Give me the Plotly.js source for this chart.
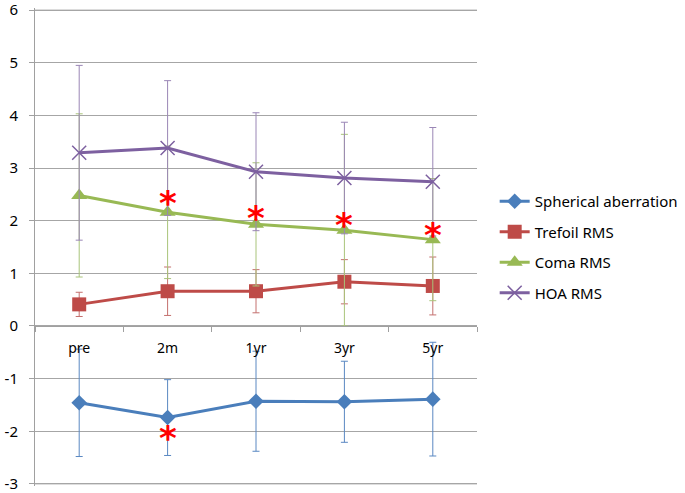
<!DOCTYPE html>
<html>
<head>
<meta charset="utf-8">
<script src="https://cdn.plot.ly/plotly-3.0.1.min.js"></script>
<style>html,body{margin:0;padding:0;background:#fff;} #chart{width:685px;height:493px;}</style>
</head>
<body>
<div id="chart"></div>
<script>
const categories = ['pre', '2m', '1yr', '3yr', '5yr'];

const sphericalMean = [-1.46, -1.74, -1.43, -1.44, -1.39];
const sphericalSD   = [1.02, 0.72, 0.95, 0.77, 1.08];

const trefoilMean = [0.41, 0.66, 0.66, 0.84, 0.76];
const trefoilSD   = [0.23, 0.46, 0.41, 0.42, 0.55];

const comaMean = [2.48, 2.16, 1.93, 1.82, 1.64];
const comaSD   = [1.55, 1.26, 1.17, 1.82, 1.16];

const hoaMean = [3.29, 3.38, 2.93, 2.81, 2.74];
const hoaSD   = [1.66, 1.28, 1.12, 1.06, 1.03];

const starCategories = ['2m', '1yr', '3yr', '5yr', '2m'];
const starY = [2.42, 2.12, 1.99, 1.81, -2.05];

const yTickVals = [-3, -2, -1, 0, 1, 2, 3, 4, 5, 6];
const yMin = -3.04, yMax = 6.04;

const FONT = '"Noto Sans", "DejaVu Sans", sans-serif';
const GRID = '#A6A6A6';

function series(name, y, sd, color, errColor, symbol, size, markerLine) {
  return {
    type: 'scatter', mode: 'lines+markers', name: name,
    x: categories, y: y,
    line: {color: color, width: 3},
    marker: Object.assign({color: color, symbol: symbol, size: size}, markerLine || {}),
    error_y: {type: 'data', array: sd, visible: true, color: errColor, thickness: 1, width: 3.5},
    legendgroup: name
  };
}

const traces = [
  series('Spherical aberration', sphericalMean, sphericalSD, '#4A7EBB', '#5A88C2', 'diamond', 12),
  series('Trefoil RMS', trefoilMean, trefoilSD, '#BE4B48', '#C4706E', 'square', 14),
  series('Coma RMS', comaMean, comaSD, '#98B954', '#A9C47A', 'triangle-up', 14),
  series('HOA RMS', hoaMean, hoaSD, '#7D60A0', '#9A86B6', 'x-thin-open', 14, {line: {color: '#7D60A0', width: 1.5}})
];

const annotations = starCategories.map((c, i) => ({
  x: c, y: starY[i], xref: 'x', yref: 'y',
  text: '<b>*</b>', showarrow: false,
  font: {family: '"DejaVu Sans", sans-serif', size: 34, color: '#FF0000'},
  yshift: -4
}));

// edge gridlines (top and bottom of the value axis)
const edgeValues = [yTickVals[0], yTickVals[yTickVals.length - 1]];
const shapes = edgeValues.map(v => ({
  type: 'line', xref: 'paper', yref: 'y', x0: 0, x1: 1, y0: v, y1: v,
  line: {color: GRID, width: 1}, layer: 'below'
}));

const layout = {
  width: 685, height: 493,
  margin: {l: 35, r: 208, t: 8, b: 7, autoexpand: false},
  paper_bgcolor: '#ffffff', plot_bgcolor: '#ffffff',
  font: {family: FONT, size: 14, color: '#000000'},
  showlegend: true,
  legend: {
    x: 1.04, xanchor: 'left', y: 0.5, yanchor: 'middle',
    font: {family: FONT, size: 15, color: '#000000'},
    traceorder: 'grouped', tracegroupgap: 8,
    bgcolor: 'rgba(0,0,0,0)'
  },
  xaxis: {
    type: 'category', categoryorder: 'array', categoryarray: categories,
    range: [-0.5, 4.5],
    anchor: 'free', position: (0 - yMin) / (yMax - yMin),
    showgrid: false, zeroline: false,
    showline: true, linecolor: '#A0A0A0', linewidth: 1,
    ticks: 'outside', tickson: 'boundaries', ticklen: 5, tickcolor: '#A0A0A0',
    ticklabelstandoff: 9,
    tickfont: {family: FONT, size: 14, color: '#000000'},
    fixedrange: true
  },
  yaxis: {
    range: [yMin, yMax], tickvals: yTickVals, ticktext: yTickVals.map(String),
    showgrid: true, gridcolor: GRID, gridwidth: 1,
    zeroline: false,
    showline: true, linecolor: '#A0A0A0', linewidth: 1,
    ticks: 'outside', ticklen: 5, tickcolor: '#A0A0A0',
    ticklabelstandoff: 8, ticklabeloverflow: 'allow',
    tickfont: {family: FONT, size: 15, color: '#000000'},
    fixedrange: true
  },
  shapes: shapes,
  annotations: annotations
};

Plotly.newPlot('chart', traces, layout, {displayModeBar: false, staticPlot: true});
</script>
</body>
</html>
